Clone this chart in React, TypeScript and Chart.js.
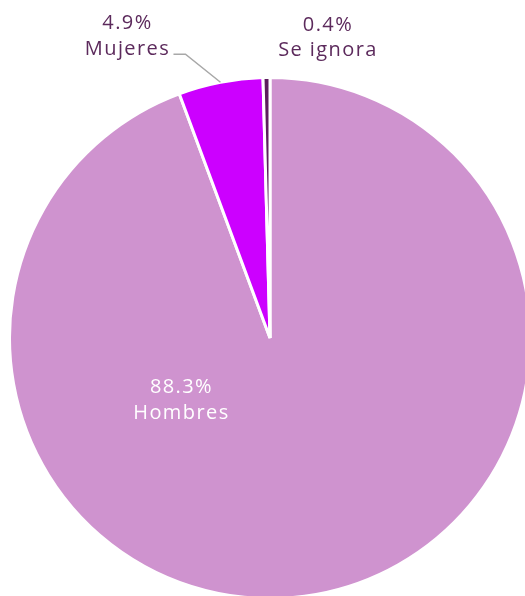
import React, { useEffect, useRef } from "react";
import { Chart, registerables } from "chart.js";

Chart.register(...registerables);

const categories = ["Hombres", "Mujeres", "Se ignora"];
const values = [88.3, 4.9, 0.4];
const colors = ["#CF93CF", "#CC00FF", "#5E1F5E"];
const textColor = "#5C2A5C";
const FONT = "20px 'Open Sans', sans-serif";

const labelPlugin = {
  id: "pieLabels",
  afterDatasetsDraw(chart: any) {
    const ctx = chart.ctx;
    const meta = chart.getDatasetMeta(0);
    ctx.save();
    ctx.font = FONT;
    (ctx as any).letterSpacing = "1.4px";
    ctx.textAlign = "center";
    ctx.textBaseline = "middle";
    meta.data.forEach((arc: any, i: number) => {
      const { x, y, outerRadius, startAngle, endAngle } = arc.getProps(
        ["x", "y", "outerRadius", "startAngle", "endAngle"],
        true
      );
      const r = outerRadius;
      const mid = (startAngle + endAngle) / 2;
      const pct = values[i].toFixed(1) + "%";
      if (i === 0) {
        ctx.fillStyle = "#FFFFFF";
        const lx = x - 0.34 * r;
        const ly = y + 0.23 * r;
        ctx.fillText(pct, lx, ly - 11);
        ctx.fillText(categories[i], lx, ly + 15);
      } else if (i === 1) {
        const ex = x + Math.cos(mid) * r;
        const ey = y + Math.sin(mid) * r;
        const kx = ex - 35;
        const ky = ey - 28;
        ctx.strokeStyle = "#A8A8A8";
        ctx.lineWidth = 1.5;
        ctx.beginPath();
        ctx.moveTo(ex, ey);
        ctx.lineTo(kx, ky);
        ctx.lineTo(kx - 12, ky);
        ctx.stroke();
        ctx.fillStyle = textColor;
        const tx = kx - 12 - 46;
        ctx.fillText(pct, tx, ky - 31);
        ctx.fillText(categories[i], tx, ky - 5);
      } else {
        ctx.fillStyle = textColor;
        const tx = x + 58;
        const ty = y - r - 39;
        ctx.fillText(pct, tx, ty - 13);
        ctx.fillText(categories[i], tx, ty + 12);
      }
    });
    ctx.restore();
  },
};

export default function App() {
  const ref = useRef<HTMLCanvasElement>(null);
  useEffect(() => {
    if (!ref.current) return;
    const chart = new Chart(ref.current, {
      type: "pie",
      data: {
        labels: categories,
        datasets: [
          {
            data: values,
            backgroundColor: colors,
            borderColor: "#FFFFFF",
            borderWidth: 3,
          },
        ],
      },
      options: {
        responsive: false,
        animation: false,
        layout: { padding: { top: 76, left: 8, right: 8, bottom: 0 } },
        plugins: {
          legend: { display: false },
          tooltip: { enabled: false },
        },
      },
      plugins: [labelPlugin],
    });
    return () => chart.destroy();
  }, []);
  return (
    <div
      style={{
        position: "fixed",
        top: 0,
        left: 0,
        width: 525,
        height: 596,
        overflow: "hidden",
        background: "#FFFFFF",
      }}
    >
      <canvas ref={ref} width={540} height={600} style={{ display: "block" }} />
    </div>
  );
}
